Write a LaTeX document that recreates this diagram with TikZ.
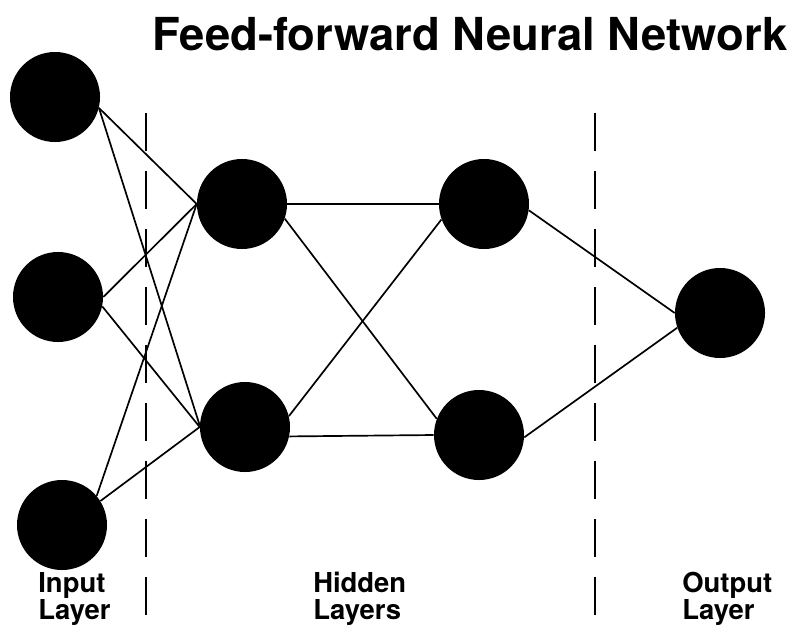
\documentclass[tikz,border=0pt]{standalone}
\usepackage{fontspec}
\setmainfont{TeX Gyre Heros}
\usetikzlibrary{positioning}
\tikzset{
  neuron/.style={circle, fill=black, minimum size=2.25cm, inner sep=0pt},
  link/.style={line width=1.2pt},
  divider/.style={line width=1.1pt, dash pattern=on 0.95cm off 0.5cm},
  layerlabel/.style={anchor=base west, align=left, inner sep=0pt,
    font=\fontsize{19.5}{19.2}\selectfont\bfseries},
}

\begin{document}
\begin{tikzpicture}[x=0.025cm, y=-0.025cm]
    \useasboundingbox (0,0) rectangle (793,625);

    % Title
    \node[anchor=base west, inner sep=0pt, font=\fontsize{32.3}{34}\selectfont\bfseries] (title) at (152,50) {Feed-forward Neural Network};

    % Layer dividers
    \draw[divider] (146,113) -- (146,625);
    \draw[divider] (595,113) -- (595,625);

    % Neurons
    \node[neuron] (in1) at (55,97) {};
    \node[neuron] (in2) at (58,297) {};
    \node[neuron] (in3) at (62,525) {};
    \node[neuron] (hid1) at (242,204) {};
    \node[neuron] (hid2) at (245,427) {};
    \node[neuron] (hid3) at (484,204) {};
    \node[neuron] (hid4) at (479,435) {};
    \node[neuron] (out) at (720,313) {};

    % Connections: input to first hidden layer
    \draw[link] (in1.-14) -- (hid1.west);
    \draw[link] (in1.-14) -- (hid2.178);
    \draw[link] (in2.east) -- (hid1.west);
    \draw[link] (in2.-12) -- (hid2.west);
    \draw[link] (in3.40) -- (hid1.west);
    \draw[link] (in3.32) -- (hid2.west);

    % Connections: first to second hidden layer
    \draw[link] (hid1.east) -- (hid3.west);
    \draw[link] (hid1.-19) -- (hid4.159);
    \draw[link] (hid2.14) -- (hid3.200);
    \draw[link] (hid2.-12) -- (hid4.west);

    % Connections: second hidden layer to output
    \draw[link] (hid3.-8) -- (out.west);
    \draw[link] (hid4.-3) -- (out.199);

    % Layer labels
    \node[layerlabel] (inlabel) at (38,619) {Input\\Layer};
    \node[layerlabel] (hidlabel) at (313,619) {Hidden\\Layers};
    \node[layerlabel] (outlabel) at (682,619) {Output\\Layer};
\end{tikzpicture}
\end{document}
